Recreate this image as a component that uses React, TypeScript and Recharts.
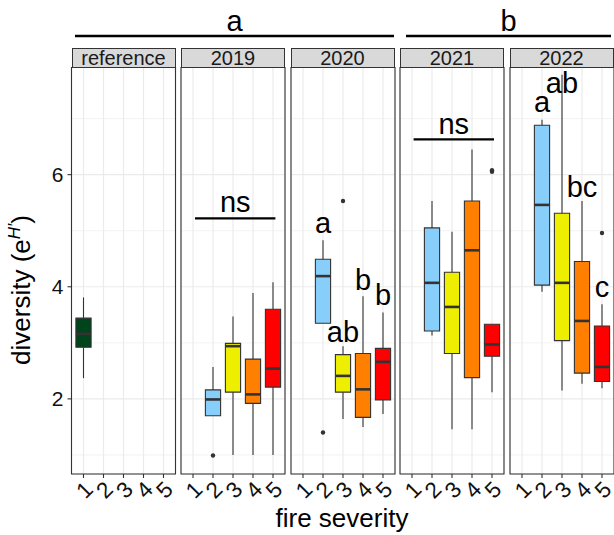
import React from "react";
import {
  ComposedChart,
  XAxis,
  YAxis,
  CartesianGrid,
  ReferenceArea,
  ReferenceLine,
  Scatter,
} from "recharts";

// ---------------- data ----------------
const panelNames = ["reference", "2019", "2020", "2021", "2022"];
const severities = [1, 2, 3, 4, 5];
const severityColors: Record<number, string> = {
  1: "#00441B",
  2: "#87CEFA",
  3: "#EEEE00",
  4: "#FF7F00",
  5: "#FF0000",
};
const yMajorTicks = [2, 4, 6];
const yMinorTicks = [1, 3, 5, 7];

type Box = { sev: number; lo: number; q1: number; med: number; q3: number; hi: number };

const boxesReference: Box[] = [{ sev: 1, lo: 2.37, q1: 2.92, med: 3.16, q3: 3.44, hi: 3.81 }];
const boxes2019: Box[] = [
  { sev: 2, lo: 1.7, q1: 1.7, med: 1.99, q3: 2.16, hi: 2.57 },
  { sev: 3, lo: 1.0, q1: 2.12, med: 2.94, q3: 2.99, hi: 3.47 },
  { sev: 4, lo: 1.0, q1: 1.92, med: 2.08, q3: 2.71, hi: 3.89 },
  { sev: 5, lo: 1.0, q1: 2.21, med: 2.54, q3: 3.6, hi: 4.08 },
];
const boxes2020: Box[] = [
  { sev: 2, lo: 3.35, q1: 3.35, med: 4.19, q3: 4.49, hi: 4.83 },
  { sev: 3, lo: 1.64, q1: 2.12, med: 2.41, q3: 2.79, hi: 2.94 },
  { sev: 4, lo: 1.5, q1: 1.67, med: 2.17, q3: 2.81, hi: 3.83 },
  { sev: 5, lo: 1.73, q1: 1.98, med: 2.66, q3: 2.9, hi: 3.54 },
];
const boxes2021: Box[] = [
  { sev: 2, lo: 3.13, q1: 3.21, med: 4.07, q3: 5.05, hi: 5.53 },
  { sev: 3, lo: 1.46, q1: 2.81, med: 3.64, q3: 4.26, hi: 4.98 },
  { sev: 4, lo: 1.46, q1: 2.38, med: 4.65, q3: 5.53, hi: 6.45 },
  { sev: 5, lo: 2.12, q1: 2.76, med: 2.97, q3: 3.33, hi: 3.33 },
];
const boxes2022: Box[] = [
  { sev: 2, lo: 3.91, q1: 4.03, med: 5.46, q3: 6.88, hi: 6.98 },
  { sev: 3, lo: 2.15, q1: 3.04, med: 4.07, q3: 5.31, hi: 7.78 },
  { sev: 4, lo: 2.27, q1: 2.46, med: 3.39, q3: 4.45, hi: 5.53 },
  { sev: 5, lo: 2.19, q1: 2.31, med: 2.57, q3: 3.3, hi: 3.69 },
];

const outliersReference: { x: number; y: number }[] = [];
const outliers2019 = [{ x: 2, y: 0.99 }];
const outliers2020 = [
  { x: 2, y: 1.4 },
  { x: 3, y: 5.53 },
];
const outliers2021 = [
  { x: 5, y: 6.05 },
  { x: 5, y: 6.08 },
];
const outliers2022 = [{ x: 5, y: 4.96 }];

const letters2020 = [
  { x: 2, y: 4.96, label: "a" },
  { x: 3, y: 3.02, label: "ab" },
  { x: 4, y: 3.94, label: "b" },
  { x: 5, y: 3.67, label: "b" },
];
const letters2022 = [
  { x: 2, y: 7.12, label: "a" },
  { x: 3, y: 7.45, label: "ab" },
  { x: 4, y: 5.6, label: "bc" },
  { x: 5, y: 3.82, label: "c" },
];

type Ns = { from: number; to: number; y: number; textY: number; label: string };
const ns2019: Ns = { from: 1.1, to: 5.12, y: 5.22, textY: 5.34, label: "ns" };
const ns2021: Ns = { from: 1.08, to: 5.1, y: 6.63, textY: 6.73, label: "ns" };

const groupLetters = [
  { label: "a", x1: 75, x2: 394 },
  { label: "b", x1: 406, x2: 611 },
];

// ---------------- layout ----------------
const FONT = "'Liberation Sans', Arial, Helvetica, sans-serif";
const Y_DOMAIN: [number, number] = [0.66, 7.92];
const X_DOMAIN: [number, number] = [0.4, 5.6];
const PANEL_TOP = 67;
const PANEL_H = 407;
const PANEL_W = 104;
const PANEL_X0 = 71.5;
const PANEL_STEP = 109.5;
const Y_AXIS_W = 71.5;
const X_AXIS_H = 45;
const SIDE_PAD = 8;
const BOX_HALF = 0.38;
const panelLeft = (i: number) => PANEL_X0 + i * PANEL_STEP;

const XTick = (props: any) => {
  const { x, y, payload } = props;
  return (
    <text
      transform={`translate(${x + 1},${y + 10}) rotate(-45)`}
      textAnchor="middle"
      dominantBaseline="central"
      fontSize={22.5}
      fontFamily={FONT}
      fill="#111"
    >
      {payload.value}
    </text>
  );
};

const YTick = (props: any) => {
  const { x, y, payload } = props;
  return (
    <text
      x={x - 2}
      y={y}
      textAnchor="end"
      dominantBaseline="central"
      fontSize={21}
      fontFamily={FONT}
      fill="#111"
    >
      {payload.value}
    </text>
  );
};

const Dot = (p: any) => <circle cx={p.cx} cy={p.cy} r={2.2} fill="#333333" />;
const Letter = (p: any) => (
  <text x={p.cx} y={p.cy} textAnchor="middle" fontSize={29} fontFamily={FONT} fill="#000">
    {p.payload.label}
  </text>
);

function boxElements(boxes: Box[]) {
  const els: React.ReactNode[] = [];
  boxes.forEach((b, i) => {
    if (b.lo < b.q1)
      els.push(
        <ReferenceLine
          key={`wl${i}`}
          segment={[
            { x: b.sev, y: b.lo },
            { x: b.sev, y: b.q1 },
          ]}
          stroke="#333333"
          strokeWidth={1.1}
        />
      );
    if (b.hi > b.q3)
      els.push(
        <ReferenceLine
          key={`wh${i}`}
          segment={[
            { x: b.sev, y: b.q3 },
            { x: b.sev, y: b.hi },
          ]}
          stroke="#333333"
          strokeWidth={1.1}
        />
      );
    els.push(
      <ReferenceArea
        key={`bx${i}`}
        x1={b.sev - BOX_HALF}
        x2={b.sev + BOX_HALF}
        y1={b.q1}
        y2={b.q3}
        fill={severityColors[b.sev]}
        fillOpacity={1}
        stroke="#333333"
        strokeWidth={1.1}
      />
    );
    els.push(
      <ReferenceLine
        key={`md${i}`}
        segment={[
          { x: b.sev - BOX_HALF, y: b.med },
          { x: b.sev + BOX_HALF, y: b.med },
        ]}
        stroke="#333333"
        strokeWidth={2.6}
      />
    );
  });
  return els;
}

type PanelProps = {
  idx: number;
  boxes: Box[];
  outliers: { x: number; y: number }[];
  letters?: { x: number; y: number; label: string }[];
  ns?: Ns;
};

function Panel({ idx, boxes, outliers, letters, ns }: PanelProps) {
  const showY = idx === 0;
  const yW = showY ? Y_AXIS_W : 0;
  const leftPad = showY ? 0 : SIDE_PAD;
  const nsLabel = ns ? [{ x: (ns.from + ns.to) / 2, y: ns.textY, label: ns.label }] : [];
  return (
    <div style={{ position: "absolute", left: panelLeft(idx) - yW - leftPad, top: PANEL_TOP }}>
      <ComposedChart
        width={leftPad + yW + PANEL_W + SIDE_PAD}
        height={PANEL_H + X_AXIS_H}
        margin={{ top: 0, right: SIDE_PAD, bottom: 0, left: leftPad }}
      >
        <XAxis
          type="number"
          dataKey="x"
          domain={X_DOMAIN}
          ticks={severities}
          allowDataOverflow
          interval={0}
          height={X_AXIS_H}
          axisLine={false}
          tickLine={{ stroke: "#333333", strokeWidth: 1.1 }}
          tickSize={4}
          tick={(p: any) => <XTick {...p} />}
        />
        <YAxis
          type="number"
          dataKey="y"
          domain={Y_DOMAIN}
          ticks={yMajorTicks}
          allowDataOverflow
          interval={0}
          width={yW}
          hide={!showY}
          axisLine={false}
          tickLine={{ stroke: "#333333", strokeWidth: 1.1 }}
          tickSize={4}
          tick={(p: any) => <YTick {...p} />}
        />
        <YAxis yAxisId="minor" type="number" domain={Y_DOMAIN} ticks={yMinorTicks} allowDataOverflow hide />
        <CartesianGrid yAxisId="minor" vertical={false} stroke="#EBEBEB" strokeWidth={0.6} />
        <CartesianGrid stroke="#EBEBEB" strokeWidth={1.2} />
        {boxElements(boxes)}
        {ns ? (
          <ReferenceLine
            segment={[
              { x: ns.from, y: ns.y },
              { x: ns.to, y: ns.y },
            ]}
            stroke="#000"
            strokeWidth={2.2}
          />
        ) : null}
        <Scatter data={outliers} dataKey="y" shape={Dot} isAnimationActive={false} />
        <Scatter data={[...(letters || []), ...nsLabel]} dataKey="y" shape={Letter} isAnimationActive={false} />
        <ReferenceArea
          x1={X_DOMAIN[0]}
          x2={X_DOMAIN[1]}
          y1={Y_DOMAIN[0]}
          y2={Y_DOMAIN[1]}
          fill="none"
          fillOpacity={0}
          stroke="#333333"
          strokeWidth={1.1}
        />
      </ComposedChart>
    </div>
  );
}

export default function App() {
  return (
    <div
      style={{
        position: "absolute",
        left: 0,
        top: 0,
        width: 614,
        height: 535,
        background: "#fff",
        overflow: "hidden",
        fontFamily: FONT,
      }}
    >
      <Panel idx={0} boxes={boxesReference} outliers={outliersReference} />
      <Panel idx={1} boxes={boxes2019} outliers={outliers2019} ns={ns2019} />
      <Panel idx={2} boxes={boxes2020} outliers={outliers2020} letters={letters2020} />
      <Panel idx={3} boxes={boxes2021} outliers={outliers2021} ns={ns2021} />
      <Panel idx={4} boxes={boxes2022} outliers={outliers2022} letters={letters2022} />

      {panelNames.map((name, i) => (
        <div
          key={name}
          style={{
            position: "absolute",
            left: panelLeft(i),
            top: 48,
            width: PANEL_W,
            height: 20,
            boxSizing: "border-box",
            background: "#D9D9D9",
            border: "1px solid #333333",
            fontSize: 20,
            lineHeight: "18px",
            textAlign: "center",
            color: "#1A1A1A",
          }}
        >
          {name}
        </div>
      ))}

      <svg
        width={614}
        height={535}
        style={{ position: "absolute", left: 0, top: 0, pointerEvents: "none" }}
      >
        {groupLetters.map((g) => (
          <g key={g.label}>
            <line x1={g.x1} x2={g.x2} y1={36} y2={36} stroke="#000" strokeWidth={2.3} />
            <text
              x={(g.x1 + g.x2) / 2}
              y={30.5}
              textAnchor="middle"
              fontSize={29}
              fontFamily={FONT}
              fill="#000"
            >
              {g.label}
            </text>
          </g>
        ))}
        <text x={342} y={527} textAnchor="middle" fontSize={26} fontFamily={FONT} fill="#000">
          fire severity
        </text>
        <text
          transform="translate(30,290) rotate(-90)"
          textAnchor="middle"
          fontSize={26}
          fontFamily={FONT}
          fill="#000"
        >
          diversity (e
          <tspan dy={-10} fontSize={17} fontStyle="italic">
            H′
          </tspan>
          <tspan dy={10}>)</tspan>
        </text>
      </svg>
    </div>
  );
}
